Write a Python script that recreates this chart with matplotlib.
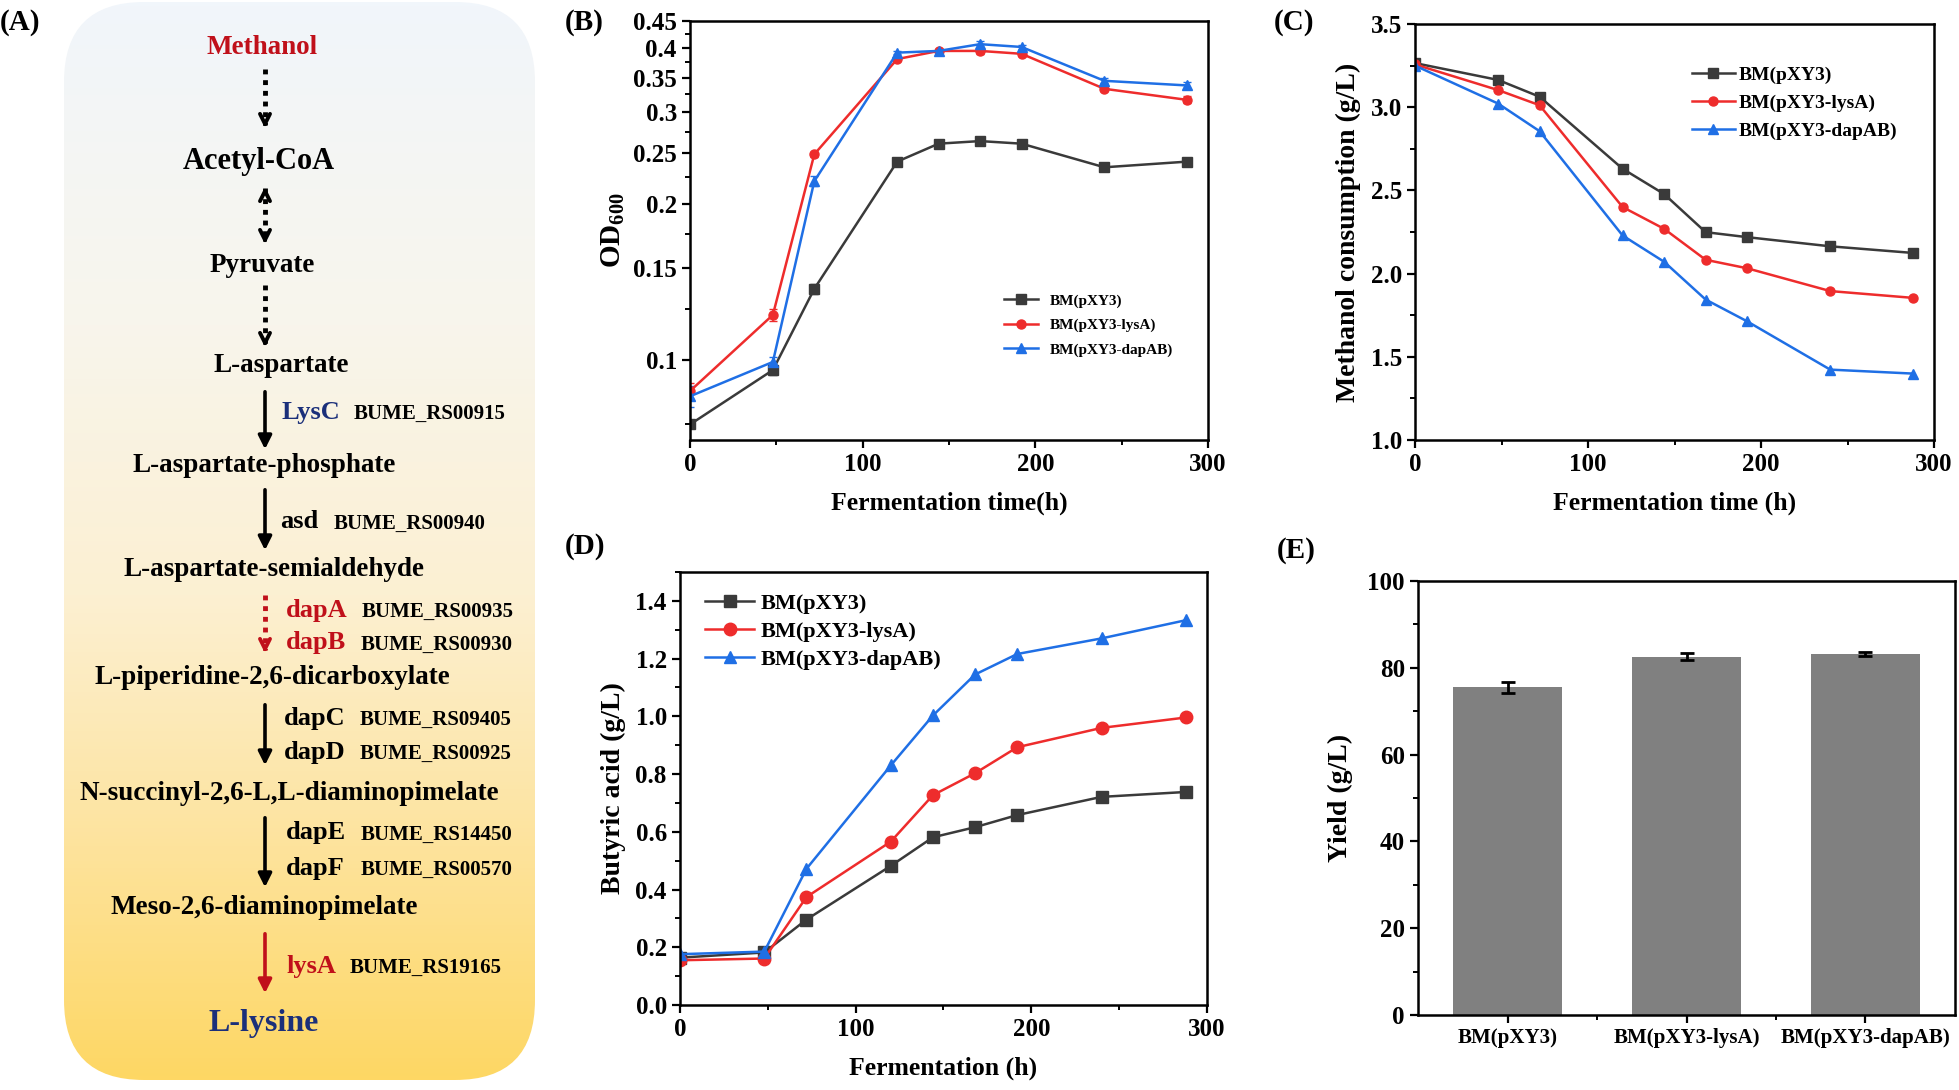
import numpy as np
import matplotlib
matplotlib.use('Agg')
import matplotlib.pyplot as plt
from matplotlib.patches import FancyBboxPatch
from matplotlib.ticker import MultipleLocator, FixedLocator, NullFormatter

# ---- data ----
time_h = [0, 48, 72, 120, 144, 168, 192, 240, 288]
strains = ['BM(pXY3)', 'BM(pXY3-lysA)', 'BM(pXY3-dapAB)']

od_ctrl = [0.075, 0.0955, 0.137, 0.241, 0.261, 0.264, 0.261, 0.235, 0.241]
od_lysA = [0.087, 0.122, 0.249, 0.380, 0.394, 0.394, 0.389, 0.333, 0.317]
od_dapAB = [0.085, 0.099, 0.221, 0.391, 0.394, 0.406, 0.401, 0.345, 0.338]
od_err_ctrl = [0.001, 0.002, 0.003, 0.004, 0.003, 0.003, 0.002, 0.002, 0.003]
od_err_lysA = [0.003, 0.003, 0.003, 0.004, 0.003, 0.005, 0.004, 0.003, 0.005]
od_err_dapAB = [0.004, 0.002, 0.005, 0.003, 0.002, 0.005, 0.004, 0.004, 0.005]
od_ticks = [0.1, 0.15, 0.2, 0.25, 0.3, 0.35, 0.4, 0.45]
od_ticklabels = ['0.1', '0.15', '0.2', '0.25', '0.3', '0.35', '0.4', '0.45']

meoh_ctrl = [3.265, 3.164, 3.063, 2.63, 2.478, 2.249, 2.219, 2.164, 2.124]
meoh_lysA = [3.257, 3.103, 3.012, 2.40, 2.269, 2.083, 2.032, 1.895, 1.854]
meoh_dapAB = [3.25, 3.022, 2.856, 2.229, 2.071, 1.844, 1.713, 1.423, 1.399]

but_ctrl = [0.164, 0.182, 0.296, 0.482, 0.581, 0.616, 0.658, 0.721, 0.738]
but_lysA = [0.155, 0.161, 0.374, 0.566, 0.727, 0.803, 0.893, 0.960, 0.996]
but_dapAB = [0.176, 0.185, 0.472, 0.830, 1.003, 1.145, 1.216, 1.270, 1.333]

yield_vals = [75.5, 82.6, 83.2]
yield_err = [1.2, 0.7, 0.5]

# pathway (panel A)
compounds = ['Methanol', 'Acetyl-CoA', 'Pyruvate', 'L-aspartate', 'L-aspartate-phosphate',
             'L-aspartate-semialdehyde', 'L-piperidine-2,6-dicarboxylate',
             'N-succinyl-2,6-L,L-diaminopimelate', 'Meso-2,6-diaminopimelate', 'L-lysine']
genes = [('LysC', 'BUME_RS00915'), ('asd', 'BUME_RS00940'),
         ('dapA', 'BUME_RS00935'), ('dapB', 'BUME_RS00930'),
         ('dapC', 'BUME_RS09405'), ('dapD', 'BUME_RS00925'),
         ('dapE', 'BUME_RS14450'), ('dapF', 'BUME_RS00570'),
         ('lysA', 'BUME_RS19165')]

plt.rcParams['font.family'] = ['Liberation Serif', 'DejaVu Serif']
plt.rcParams['font.weight'] = 'bold'
plt.rcParams['axes.labelweight'] = 'bold'
plt.rcParams['mathtext.fontset'] = 'custom'
plt.rcParams['mathtext.rm'] = 'Liberation Serif:bold'
plt.rcParams['mathtext.it'] = 'Liberation Serif:bold'
plt.rcParams['mathtext.bf'] = 'Liberation Serif:bold'

W, H = 1959, 1090
fig = plt.figure(figsize=(W / 100, H / 100), dpi=100)

BLACK = '#3a3a3a'
RED = '#ee2c2c'
BLUE = '#1f6fe5'
DRED = '#c0101a'
NAVY = '#1b2f7a'


def box(l, t, r, b):
    return [l / W, 1 - b / H, (r - l) / W, (b - t) / H]


def style_axes(ax, size=18):
    for s in ax.spines.values():
        s.set_linewidth(1.8)
    ax.tick_params(which='major', direction='out', length=6, width=1.6, labelsize=size,
                   top=False, right=False)
    ax.tick_params(which='minor', direction='out', length=3.5, width=1.4, top=False, right=False)


# ---------------- panel A ----------------
axA = fig.add_axes([0, 0, 560 / W, 1])
axA.set_xlim(0, 560)
axA.set_ylim(H, 0)
axA.axis('off')

stops = [0.0, 0.3, 0.55, 0.75, 1.0]
cols = np.array([[241, 246, 251], [248, 245, 236], [252, 240, 210],
                 [253, 229, 165], [254, 215, 100]]) / 255.0
yy = np.linspace(0, 1, 300)
grad = np.stack([np.interp(yy, stops, cols[:, k]) for k in range(3)], axis=-1)[:, None, :]
im = axA.imshow(grad, extent=(64, 535, 1080, 2), aspect='auto', origin='upper', zorder=0)
patch = FancyBboxPatch((64, 2), 471, 1078, boxstyle='round,pad=0,rounding_size=80',
                       facecolor='none', edgecolor='none', transform=axA.transData)
axA.add_patch(patch)
im.set_clip_path(patch)

cpos = [(262, 47), (259, 162), (262, 266), (281, 365), (264, 465), (274, 570),
        (272, 678), (289, 793), (264, 907), (264, 1023)]
csize = [19.5, 22, 19.5, 19.5, 19.5, 19.5, 19.5, 19.5, 19.5, 23]
ccol = [DRED, 'k', 'k', 'k', 'k', 'k', 'k', 'k', 'k', NAVY]
for name, (x, y), fs, c in zip(compounds, cpos, csize, ccol):
    axA.text(x, y, name, ha='center', va='center', fontsize=fs, fontweight='bold', color=c)

# arrows
ax_x = 265


def dotted(y0, y1, color='k', both=False):
    axA.plot([ax_x, ax_x], [y0, y1 - 6], color=color, lw=3.5, ls=(0, (1, 1.2)),
             solid_capstyle='butt')
    axA.annotate('', xy=(ax_x, y1), xytext=(ax_x, y1 - 12),
                 arrowprops=dict(arrowstyle='->', lw=2.8, color=color, mutation_scale=18))
    if both:
        axA.annotate('', xy=(ax_x, y0 - 4), xytext=(ax_x, y0 + 8),
                     arrowprops=dict(arrowstyle='->', lw=2.8, color=color, mutation_scale=18))


def solid(y0, y1, color='k'):
    axA.annotate('', xy=(ax_x, y1), xytext=(ax_x, y0),
                 arrowprops=dict(arrowstyle='-|>', lw=2.6, color=color, mutation_scale=20))


dotted(69, 131)
dotted(188, 247, both=True)
dotted(285, 350)
solid(389, 452)
solid(487, 553)
dotted(595, 656, color=DRED)
solid(702, 768)
solid(815, 890)
solid(931, 996, color=DRED)

gpos = [(282, 412, 354), (280, 522, 334), (286, 610, 362), (286, 643, 361),
        (284, 718, 360), (284, 752, 360), (286, 833, 361), (286, 868, 361),
        (286, 966, 350)]
gcol = [NAVY, 'k', DRED, DRED, 'k', 'k', 'k', 'k', DRED]
for (g, locus), (gx, gy, lx), c in zip(genes, gpos, gcol):
    axA.text(gx, gy, g, ha='left', va='center', fontsize=19, fontweight='bold', color=c)
    axA.text(lx, gy + 2, locus, ha='left', va='center', fontsize=15, fontweight='bold', color='k')

# panel letters
for lab, x, y in [('(A)', 0, 22), ('(B)', 565, 22), ('(C)', 1274, 22),
                  ('(D)', 565, 546), ('(E)', 1277, 550)]:
    fig.text(x / W, 1 - y / H, lab, ha='left', va='center', fontsize=21, fontweight='bold')

# ---------------- panel B ----------------
axB = fig.add_axes(box(690, 21, 1208, 440))
for y, e, c, m, lab in [(od_ctrl, od_err_ctrl, BLACK, 's', strains[0]),
                        (od_lysA, od_err_lysA, RED, 'o', strains[1]),
                        (od_dapAB, od_err_dapAB, BLUE, '^', strains[2])]:
    axB.errorbar(time_h, y, yerr=e, color=c, marker=m, ms=6.5, lw=1.8, capsize=3,
                 elinewidth=1.2, label=lab)
axB.set_yscale('log')
axB.set_ylim(0.07, 0.45)
axB.set_xlim(0, 300)
axB.yaxis.set_major_locator(FixedLocator(od_ticks))
axB.set_yticklabels(od_ticklabels)
axB.yaxis.set_minor_locator(FixedLocator([0.075, 0.125, 0.175, 0.225, 0.275, 0.325, 0.375, 0.425]))
axB.yaxis.set_minor_formatter(NullFormatter())
axB.xaxis.set_major_locator(MultipleLocator(100))
axB.xaxis.set_minor_locator(MultipleLocator(50))
style_axes(axB)
axB.set_xlabel('Fermentation time(h)', fontsize=18.5, labelpad=11)
axB.set_ylabel('OD$_{600}$', fontsize=21, labelpad=4)
hB, lB = axB.get_legend_handles_labels()
hB = [h[0] for h in hB]
axB.legend(hB, lB, loc='center left', bbox_to_anchor=(0.58, 0.274), frameon=False,
           fontsize=11, handlelength=2.2, labelspacing=0.7)

# ---------------- panel C ----------------
axC = fig.add_axes(box(1415, 24, 1934, 440))
for y, c, m, lab in [(meoh_ctrl, BLACK, 's', strains[0]),
                     (meoh_lysA, RED, 'o', strains[1]),
                     (meoh_dapAB, BLUE, '^', strains[2])]:
    axC.plot(time_h, y, color=c, marker=m, ms=6.5, lw=1.8, label=lab)
axC.set_ylim(1.0, 3.5)
axC.set_xlim(0, 300)
axC.yaxis.set_major_locator(MultipleLocator(0.5))
axC.yaxis.set_minor_locator(MultipleLocator(0.25))
axC.yaxis.set_major_formatter(matplotlib.ticker.FormatStrFormatter('%.1f'))
axC.xaxis.set_major_locator(MultipleLocator(100))
axC.xaxis.set_minor_locator(MultipleLocator(50))
style_axes(axC)
axC.set_xlabel('Fermentation time (h)', fontsize=18.5, labelpad=11)
axC.set_ylabel('Methanol consumption (g/L)', fontsize=20, labelpad=7)
axC.legend(loc='center left', bbox_to_anchor=(0.5, 0.81), frameon=False,
           fontsize=14, handlelength=2.2, labelspacing=0.55, handletextpad=0.2)

# ---------------- panel D ----------------
axD = fig.add_axes(box(680, 572, 1207, 1005))
for y, c, m, lab in [(but_ctrl, BLACK, 's', strains[0]),
                     (but_lysA, RED, 'o', strains[1]),
                     (but_dapAB, BLUE, '^', strains[2])]:
    axD.plot(time_h, y, color=c, marker=m, ms=9, lw=1.8, label=lab)
axD.set_ylim(0, 1.5)
axD.set_xlim(0, 300)
axD.yaxis.set_major_locator(MultipleLocator(0.2))
axD.yaxis.set_minor_locator(MultipleLocator(0.1))
axD.yaxis.set_major_formatter(matplotlib.ticker.FormatStrFormatter('%.1f'))
axD.xaxis.set_major_locator(MultipleLocator(100))
axD.xaxis.set_minor_locator(MultipleLocator(50))
style_axes(axD)
axD.set_xlabel('Fermentation (h)', fontsize=18.5, labelpad=11)
axD.set_ylabel('Butyric acid (g/L)', fontsize=20, labelpad=7)
axD.legend(loc='center left', bbox_to_anchor=(0.01, 0.862), frameon=False,
           fontsize=16, handlelength=2.2, labelspacing=0.33, handletextpad=0.3)

# ---------------- panel E ----------------
axE = fig.add_axes(box(1418, 581, 1955, 1015))
xpos = np.arange(len(strains))
axE.bar(xpos, yield_vals, width=0.61, color='#808080', zorder=2)
axE.errorbar(xpos, yield_vals, yerr=yield_err, fmt='none', ecolor='k', elinewidth=2,
             capsize=5, capthick=2, zorder=3)
axE.set_xlim(-0.5, 2.5)
axE.set_ylim(0, 100)
axE.set_xticks(xpos)
axE.set_xticklabels(strains)
axE.xaxis.set_minor_locator(FixedLocator([0.5, 1.5]))
axE.yaxis.set_major_locator(MultipleLocator(20))
axE.yaxis.set_minor_locator(MultipleLocator(10))
style_axes(axE)
axE.tick_params(axis='x', labelsize=15)
axE.set_ylabel('Yield (g/L)', fontsize=20, labelpad=10)

fig.savefig('out.png', dpi=100)
